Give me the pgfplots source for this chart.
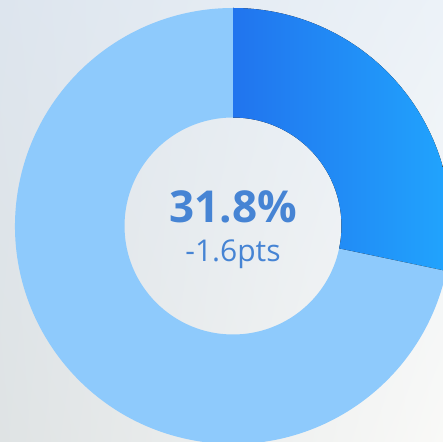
\documentclass[border=0pt]{standalone}
\usepackage{pgfplots}
\pgfplotsset{compat=1.18}
\usepackage{pgfplotstable}
\usetikzlibrary{shadings}
\usepackage{fontspec}
\setmainfont{Open Sans}

\definecolor{bgTL}{RGB}{221,229,238}
\definecolor{bgTR}{RGB}{236,242,248}
\definecolor{bgBL}{RGB}{223,227,228}
\definecolor{bgBR}{RGB}{249,249,247}
\definecolor{segDarkL}{RGB}{33,116,238}
\definecolor{segDarkR}{RGB}{33,166,254}
\definecolor{segLight}{RGB}{142,202,252}
\definecolor{labelBlue}{RGB}{70,132,212}

% share of the ring, percent
\pgfplotstableread{
part value
highlight 28.3
rest 71.7
}\ringdata

\begin{document}
\begin{tikzpicture}
\pgfplotstablegetelem{0}{value}\of\ringdata
\pgfmathsetmacro\endA{90-3.6*\pgfplotsretval}
\pgfplotstablegetelem{1}{value}\of\ringdata
\pgfmathsetmacro\endB{\endA-3.6*\pgfplotsretval}
\begin{axis}[
    scale only axis,
    width=443bp, height=442bp,
    xmin=0, xmax=443, ymin=0, ymax=442,
    axis lines=none,
    clip=true,
  ]
  % background
  \fill[shading=bilinear interpolation,
        upper left=bgTL, upper right=bgTR,
        lower left=bgBL, lower right=bgBR]
    (axis cs:0,0) rectangle (axis cs:443,442);
  % light segment
  \fill[segLight] (axis cs:233,216) ++(\endA:218bp)
    arc[start angle=\endA, end angle=\endB, radius=218bp]
    -- ++(\endB+180:109.5bp)
    arc[start angle=\endB, end angle=\endA, radius=108.5bp] -- cycle;
  % highlighted segment
  \fill[left color=segDarkL, right color=segDarkR] (axis cs:233,216) ++(90:218bp)
    arc[start angle=90, end angle=\endA, radius=218bp]
    -- ++(\endA+180:109.5bp)
    arc[start angle=\endA, end angle=90, radius=108.5bp] -- cycle;
  \node[anchor=base, text=labelBlue, font=\fontsize{44bp}{44bp}\selectfont\bfseries, inner sep=0pt]
    at (axis cs:233,219) {31.8\%};
  \node[anchor=base, text=labelBlue, font=\fontsize{30bp}{30bp}\selectfont, inner sep=0pt]
    at (axis cs:233,180) {-1.6pts};
\end{axis}
\pgfresetboundingbox
\useasboundingbox (0,0) rectangle (443bp,442bp);
\end{tikzpicture}
\end{document}
